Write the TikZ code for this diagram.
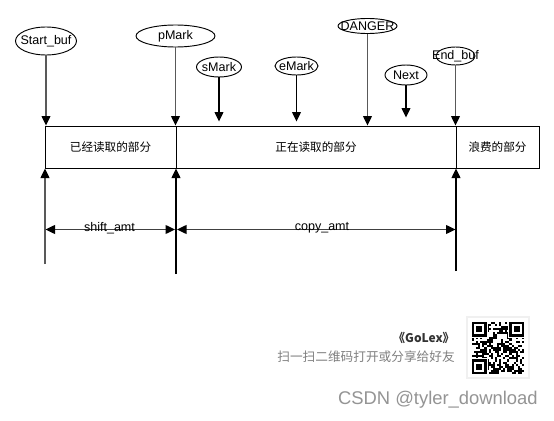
\documentclass[tikz,border=0pt]{standalone}
\usepackage{fontspec}
\setmainfont{Liberation Sans}
\newfontfamily\cjk{Noto Sans CJK SC}
\usetikzlibrary{shapes.geometric}
\newcommand\mytipd[1]{\fill[black] (#1) -- ++(-4.6,-9.5) -- ++(9.2,0) -- cycle;}
\newcommand\mytipu[1]{\fill[black] (#1) -- ++(-4.6,9.5) -- ++(9.2,0) -- cycle;}
\newcommand\mytipl[1]{\fill[black] (#1) -- ++(9.5,-4.6) -- ++(0,9.2) -- cycle;}
\newcommand\mytipr[1]{\fill[black] (#1) -- ++(-9.5,-4.6) -- ++(0,9.2) -- cycle;}
\begin{document}
\begin{tikzpicture}[x=0.75pt,y=-0.75pt,
  ell/.style={ellipse,draw,line width=0.7pt,inner sep=0pt},
  lab/.style={font=\fontsize{9.4}{11}\selectfont,inner sep=0pt},
  part/.style={rectangle,draw,line width=0.75pt,minimum height=31.5pt,inner sep=0pt,font=\cjk\fontsize{8.7}{10}\selectfont},
  ptr/.style={draw=black!65,line width=0.9pt,shorten >=5pt},
  sptr/.style={draw=black,line width=0.9pt,shorten >=5pt},
  dim/.style={draw=black!75,line width=0.9pt,shorten >=5pt,shorten <=5pt}]
\useasboundingbox (0,0) rectangle (554,421);
\fill[white] (0,0) rectangle (554,421);

% buffer parts
\node[part,minimum width=98.25pt] (r1) at (110.5,147) {已经读取的部分};
\node[part,minimum width=210pt] (r2) at (316,147) {正在读取的部分};
\node[part,minimum width=62.25pt] (r3) at (497.5,147) {浪费的部分};

% pointer ellipses
\node[ell,minimum width=45.75pt,minimum height=21pt] (sb) at (46,41) {};
\node[lab] at (sb) {Start\_buf};
\node[ell,minimum width=59.25pt,minimum height=16.5pt] (pm) at (175.5,36) {};
\node[lab] at (pm) {pMark};
\node[ell,minimum width=33.75pt,minimum height=15pt] (sm) at (219,67) {};
\node[lab] at (sm) {sMark};
\node[ell,minimum width=32.25pt,minimum height=13.5pt] (em) at (296.5,66) {};
\node[lab] at (em) {eMark};
\node[ell,minimum width=44.25pt,minimum height=11.25pt] (dg) at (367.5,26) {};
\node[lab] at (dg) {DANGER};
\node[ell,minimum width=31.5pt,minimum height=15pt] (nx) at (406,75) {};
\node[lab] at (nx) {Next};
\node[ell,minimum width=29.25pt,minimum height=13.5pt] (eb) at (455.5,56) {};
\node[lab] at (eb) {End\_buf};

% arrow tip points
\coordinate (tsb) at (sb.south |- r1.north);
\coordinate (tpm) at (pm.south |- r2.north);
\coordinate (tsm) at ([yshift=3pt]sm.south |- r2.north);
\coordinate (tem) at ([yshift=3pt]em.south |- r2.north);
\coordinate (tdg) at (dg.south |- r2.north);
\coordinate (tnx) at ([yshift=6pt]nx.south |- r2.north);
\coordinate (teb) at (eb.south |- r3.north);

% pointer arrows
\draw[ptr] (sb.south) -- (tsb); \mytipd{tsb}
\draw[ptr] (pm.south) -- (tpm); \mytipd{tpm}
\draw[sptr] (sm.south) -- (tsm); \mytipd{tsm}
\draw[sptr] (em.south) -- (tem); \mytipd{tem}
\draw[ptr] (dg.south) -- (tdg); \mytipd{tdg}
\draw[sptr] (nx.south) -- (tnx); \mytipd{tnx}
\draw[ptr] (eb.south) -- (teb); \mytipd{teb}

% lower markers
\coordinate (l1) at (45,264);
\coordinate (l2) at (176,274);
\coordinate (l3) at (456,271);
\coordinate (u1) at (l1 |- r1.south);
\coordinate (u2) at (l2 |- r2.south);
\coordinate (u3) at (l3 |- r3.south);
\draw[ptr] (l1) -- (u1); \mytipu{u1}
\draw[sptr] (l2) -- (u2); \mytipu{u2}
\draw[sptr] (l3) -- (u3); \mytipu{u3}

% dimensions
\coordinate (d1) at (45.5,229.5);
\coordinate (d2a) at (175,229.5);
\coordinate (d2b) at (177,229.5);
\coordinate (d3) at (455.5,229.5);
\draw[dim] (d1) -- (d2a); \mytipl{d1} \mytipr{d2a}
\draw[dim] (d2b) -- (d3); \mytipl{d2b} \mytipr{d3}
\node[lab] (shift) at (109.5,228) {shift\_amt};
\node[lab] (copy) at (322,228) {copy\_amt};

% footer
\node[anchor=east,inner sep=0pt,font=\cjk\bfseries\fontsize{9}{10}\selectfont,text=black!80] (golex) at (455,338) {《GoLex》};
\node[anchor=east,inner sep=0pt,font=\cjk\fontsize{9.5}{11}\selectfont,text=black!50] (scan) at (455,357) {扫一扫二维码打开或分享给好友};
\node[anchor=east,inner sep=0pt,font=\fontsize{13.8}{16}\selectfont,text=black!42] (csdn) at (538,400) {CSDN @tyler\_download};

% QR code
\fill[black!6] (466,316) rectangle (530,379);
\fill[white] (468,318) rectangle (528,377);
\pgfmathsetseed{7}
\begin{scope}[shift={(472,322)}]
\foreach \i in {0,...,24}{
  \foreach \j in {0,...,24}{
    \pgfmathrandominteger{\r}{0}{1}
    \ifnum\r=1 \fill[black] (\i*2.08,\j*2.08) rectangle ++(2.08,2.08);\fi
  }
}
\foreach \ox/\oy in {0/0,18/0,0/18}{
  \fill[white] (\ox*2.08-1,\oy*2.08-1) rectangle ++(7*2.08+2,7*2.08+2);
  \fill[black] (\ox*2.08,\oy*2.08) rectangle ++(7*2.08,7*2.08);
  \fill[white] (\ox*2.08+2.08,\oy*2.08+2.08) rectangle ++(5*2.08,5*2.08);
  \fill[black] (\ox*2.08+4.16,\oy*2.08+4.16) rectangle ++(3*2.08,3*2.08);
}
\end{scope}
\end{tikzpicture}
\end{document}
